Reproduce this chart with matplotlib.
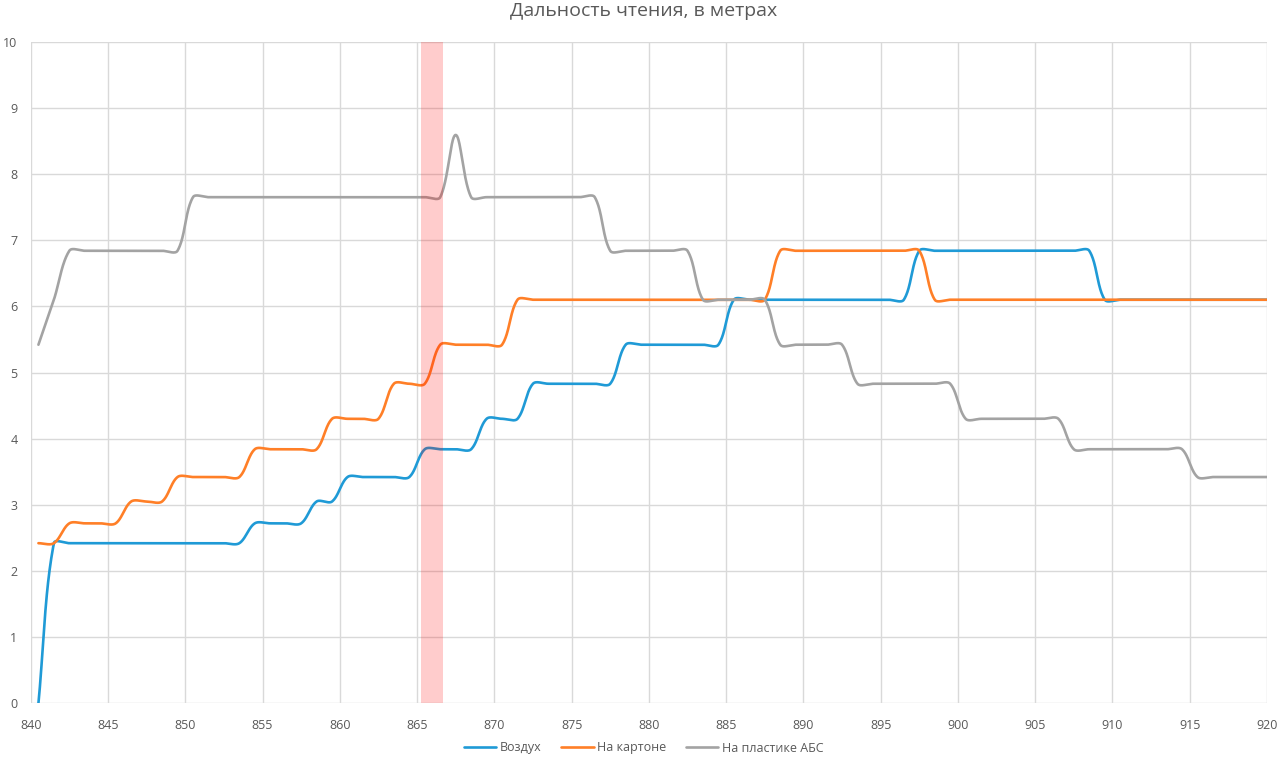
import numpy as np
import matplotlib
matplotlib.use("Agg")
import matplotlib.pyplot as plt

# ---------------- data ----------------
freq = [840.5, 841.5, 842.5, 843.5, 844.5, 845.5, 846.5, 847.5, 848.5, 849.5,
        850.5, 851.5, 852.5, 853.5, 854.5, 855.5, 856.5, 857.5, 858.5, 859.5,
        860.5, 861.5, 862.5, 863.5, 864.5, 865.5, 866.5, 867.5, 868.5, 869.5,
        870.5, 871.5, 872.5, 873.5, 874.5, 875.5, 876.5, 877.5, 878.5, 879.5,
        880.5, 881.5, 882.5, 883.5, 884.5, 885.5, 886.5, 887.5, 888.5, 889.5,
        890.5, 891.5, 892.5, 893.5, 894.5, 895.5, 896.5, 897.5, 898.5, 899.5,
        900.5, 901.5, 902.5, 903.5, 904.5, 905.5, 906.5, 907.5, 908.5, 909.5,
        910.5, 911.5, 912.5, 913.5, 914.5, 915.5, 916.5, 917.5, 918.5, 919.5,
        920.5]

air = [0.00, 2.42, 2.42, 2.42, 2.42, 2.42, 2.42, 2.42, 2.42, 2.42,
       2.42, 2.42, 2.42, 2.42, 2.72, 2.72, 2.72, 2.72, 3.05, 3.05,
       3.42, 3.42, 3.42, 3.42, 3.42, 3.84, 3.84, 3.84, 3.84, 4.30,
       4.30, 4.30, 4.83, 4.83, 4.83, 4.83, 4.83, 4.83, 5.42, 5.42,
       5.42, 5.42, 5.42, 5.42, 5.42, 6.10, 6.10, 6.10, 6.10, 6.10,
       6.10, 6.10, 6.10, 6.10, 6.10, 6.10, 6.10, 6.84, 6.84, 6.84,
       6.84, 6.84, 6.84, 6.84, 6.84, 6.84, 6.84, 6.84, 6.84, 6.10,
       6.10, 6.10, 6.10, 6.10, 6.10, 6.10, 6.10, 6.10, 6.10, 6.10,
       6.10]

cardboard = [2.42, 2.42, 2.72, 2.72, 2.72, 2.72, 3.05, 3.05, 3.05, 3.42,
             3.42, 3.42, 3.42, 3.42, 3.84, 3.84, 3.84, 3.84, 3.84, 4.30,
             4.30, 4.30, 4.30, 4.83, 4.83, 4.83, 5.42, 5.42, 5.42, 5.42,
             5.42, 6.10, 6.10, 6.10, 6.10, 6.10, 6.10, 6.10, 6.10, 6.10,
             6.10, 6.10, 6.10, 6.10, 6.10, 6.10, 6.10, 6.10, 6.84, 6.84,
             6.84, 6.84, 6.84, 6.84, 6.84, 6.84, 6.84, 6.84, 6.10, 6.10,
             6.10, 6.10, 6.10, 6.10, 6.10, 6.10, 6.10, 6.10, 6.10, 6.10,
             6.10, 6.10, 6.10, 6.10, 6.10, 6.10, 6.10, 6.10, 6.10, 6.10,
             6.10]

abs_plastic = [5.42, 6.10, 6.84, 6.84, 6.84, 6.84, 6.84, 6.84, 6.84, 6.84,
               7.65, 7.65, 7.65, 7.65, 7.65, 7.65, 7.65, 7.65, 7.65, 7.65,
               7.65, 7.65, 7.65, 7.65, 7.65, 7.65, 7.65, 8.59, 7.65, 7.65,
               7.65, 7.65, 7.65, 7.65, 7.65, 7.65, 7.65, 6.84, 6.84, 6.84,
               6.84, 6.84, 6.84, 6.10, 6.10, 6.10, 6.10, 6.10, 5.42, 5.42,
               5.42, 5.42, 5.42, 4.83, 4.83, 4.83, 4.83, 4.83, 4.83, 4.83,
               4.30, 4.30, 4.30, 4.30, 4.30, 4.30, 4.30, 3.84, 3.84, 3.84,
               3.84, 3.84, 3.84, 3.84, 3.84, 3.42, 3.42, 3.42, 3.42, 3.42,
               3.42]

series_names = ["Воздух", "На картоне", "На пластике АБС"]
series_colors = ["#1F9AD6", "#FF7F27", "#A3A3A3"]
band_start, band_end = 865.28, 866.68
title = "Дальность чтения, в метрах"
x_ticks = [840, 845, 850, 855, 860, 865, 870, 875, 880, 885, 890, 895,
           900, 905, 910, 915, 920]
y_ticks = [0, 1, 2, 3, 4, 5, 6, 7, 8, 9, 10]

# ---------------- figure ----------------
plt.rcParams['font.family'] = ['Open Sans', 'DejaVu Sans']
fig = plt.figure(figsize=(12.87, 7.65), dpi=100)
ax = fig.add_axes([30.7 / 1287, 61.7 / 765, (1267 - 30.7) / 1287, (703.3 - 41.7) / 765])
ax.set_xlim(840, 920)
ax.set_ylim(0, 10)


def excel_smooth(xs, ys, ax, n=40):
    """Excel-like smoothed line: Bezier segments with control points
    computed in display space."""
    P = ax.transData.transform(np.column_stack([xs, ys]))
    out = []
    m = len(P)
    for i in range(m - 1):
        p0 = P[i - 1] if i > 0 else P[i]
        p1 = P[i]
        p2 = P[i + 1]
        p3 = P[i + 2] if i + 2 < m else P[i + 1]
        d01 = np.hypot(*(p1 - p0))
        d12 = np.hypot(*(p2 - p1))
        d23 = np.hypot(*(p3 - p2))
        f1 = d12 / (3 * (d01 + d12)) if (d01 + d12) > 0 else 0
        f2 = d12 / (3 * (d12 + d23)) if (d12 + d23) > 0 else 0
        if i == 0:
            b1 = p1 + (p2 - p1) / 3
        else:
            b1 = p1 + (p2 - p0) * f1
        if i + 2 >= m:
            b2 = p2 - (p2 - p1) / 3
        else:
            b2 = p2 - (p3 - p1) * f2
        t = np.linspace(0, 1, n)[:, None]
        seg = ((1 - t) ** 3) * p1 + 3 * ((1 - t) ** 2) * t * b1 + \
            3 * (1 - t) * t ** 2 * b2 + t ** 3 * p2
        if i > 0:
            seg = seg[1:]
        out.append(seg)
    pts = np.vstack(out)
    return ax.transData.inverted().transform(pts)

for vals, name, col in zip([air, cardboard, abs_plastic], series_names, series_colors):
    curve = excel_smooth(np.array(freq), np.array(vals), ax)
    ax.plot(curve[:, 0], curve[:, 1], color=col, lw=1.9, label=name,
            solid_capstyle='round', zorder=3)

ax.axvspan(band_start, band_end, color='red', alpha=0.2, lw=0, zorder=4)

ax.set_xticks(x_ticks)
ax.set_yticks(y_ticks)
ax.grid(True, color='#D9D9D9', lw=1.0, zorder=0)
ax.set_axisbelow(True)
for s in ax.spines.values():
    s.set_visible(False)
ax.tick_params(axis='both', length=0, labelsize=9, colors='#595959')
ax.tick_params(axis='x', pad=11)
ax.tick_params(axis='y', pad=9.5)

fig.text(0.5, 1 - 11 / 765, title, ha='center', va='center', fontsize=14,
         color='#595959')

leg = fig.legend(loc='center', bbox_to_anchor=(0.5, 1 - 748 / 765), ncol=3,
                 frameon=False, fontsize=9, handlelength=2.6,
                 handletextpad=0.25, columnspacing=1.6)
for t in leg.get_texts():
    t.set_color('#595959')

fig.savefig("out.png", dpi=100)
